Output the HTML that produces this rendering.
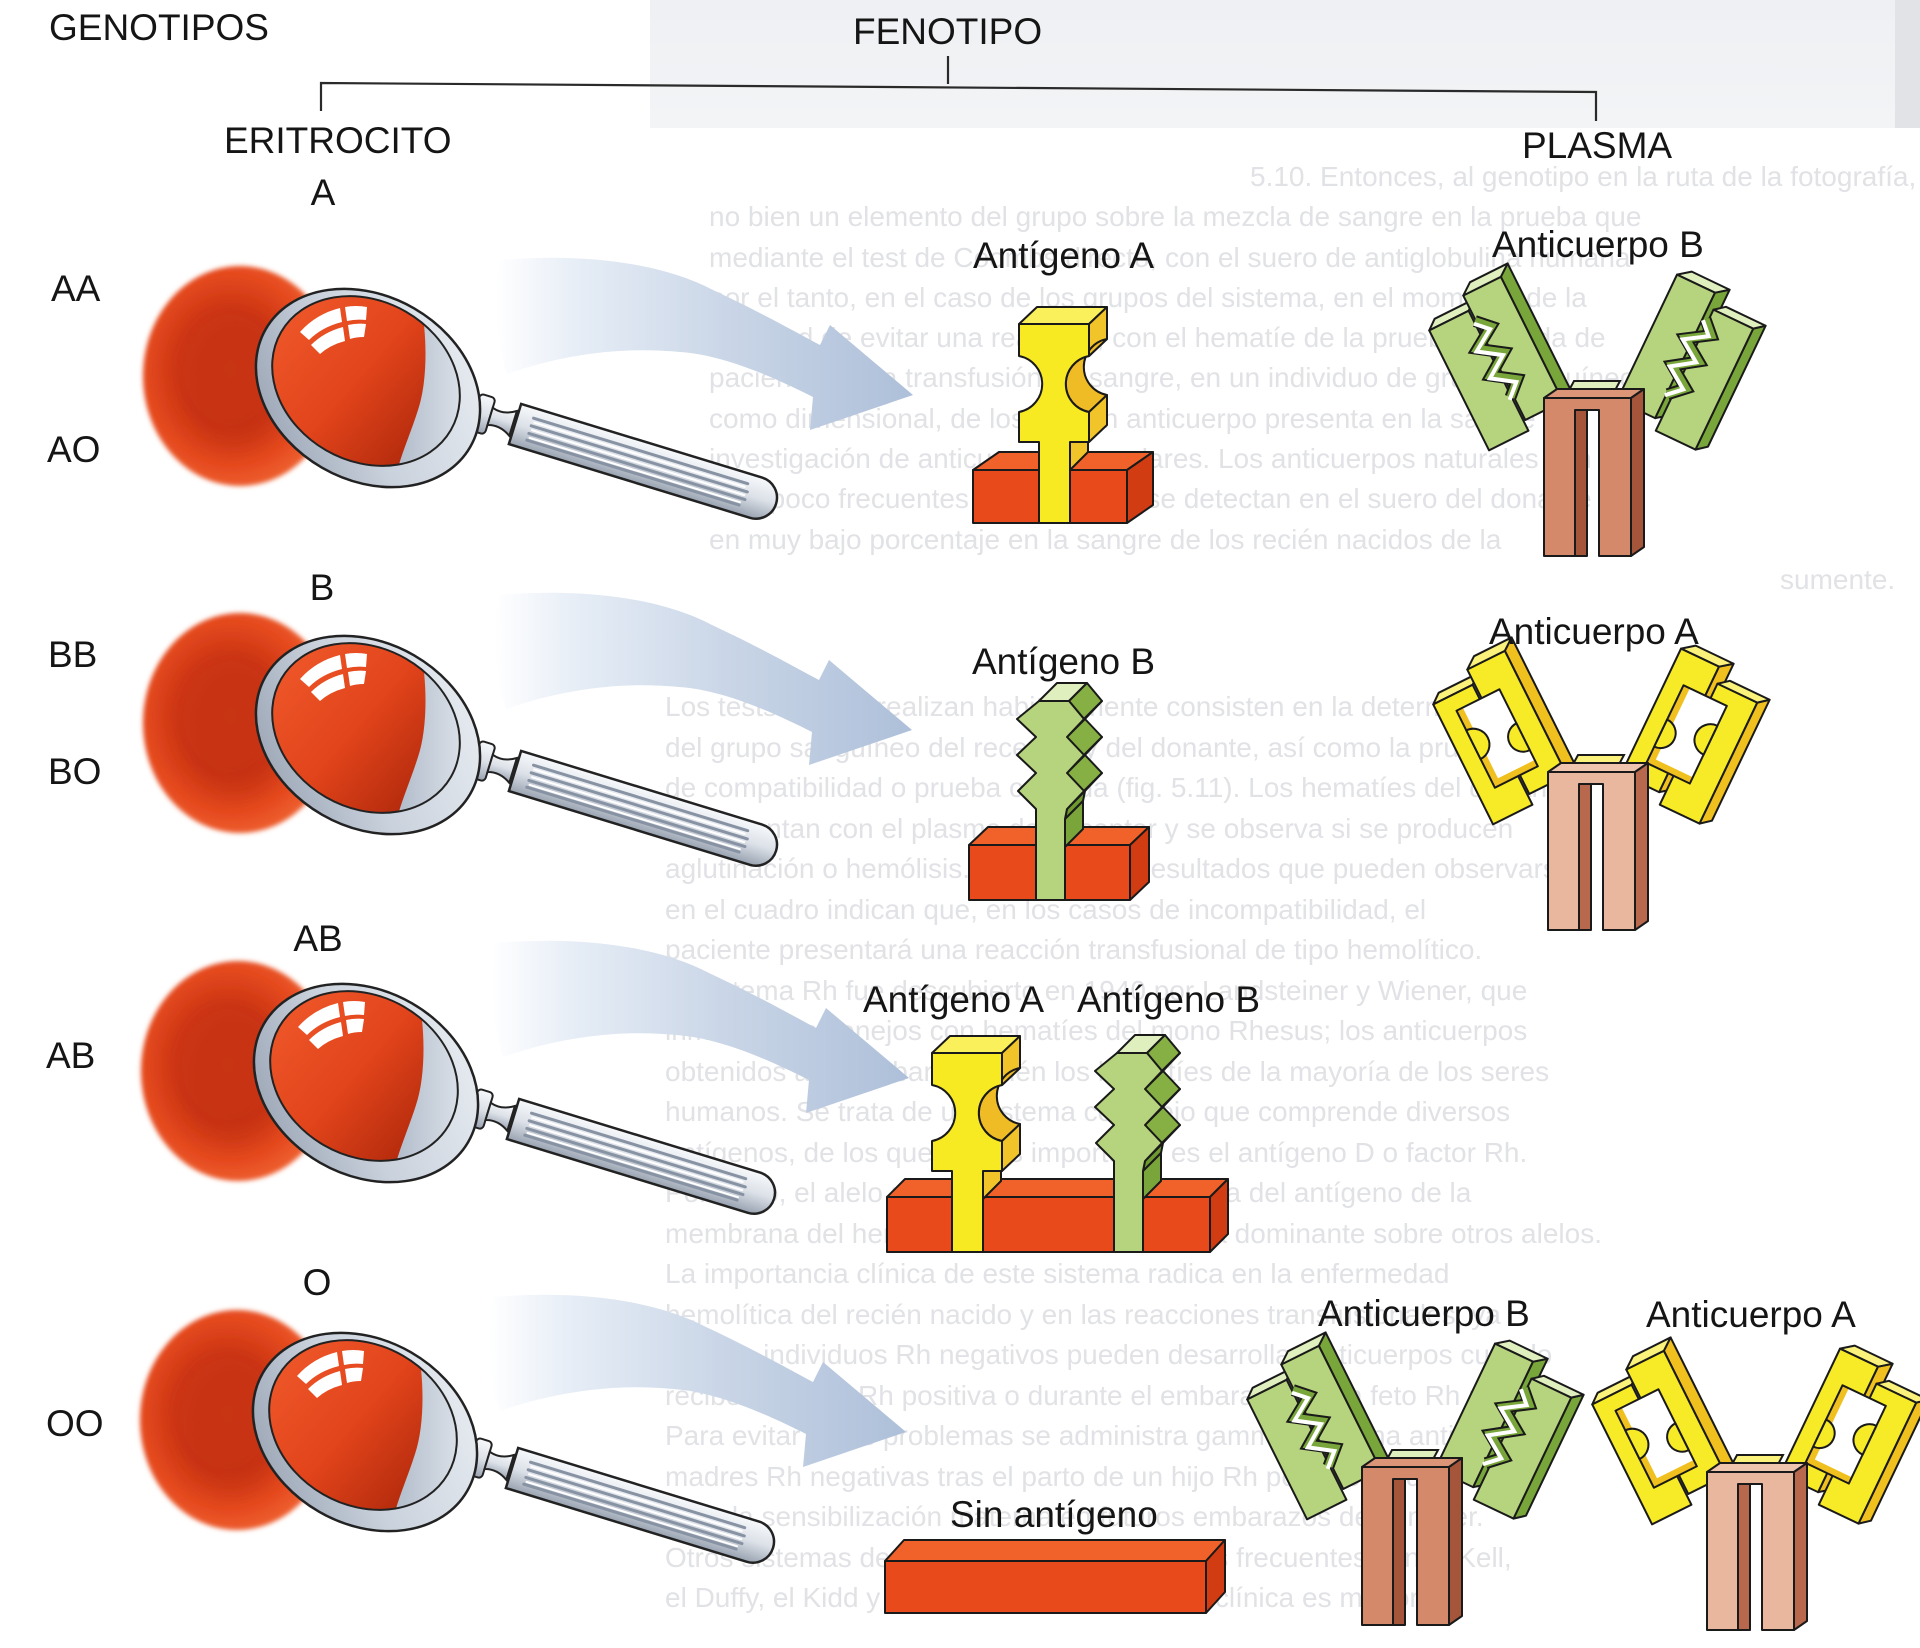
<!DOCTYPE html>
<html><head><meta charset="utf-8"><style>
html,body{margin:0;padding:0;background:#fff;}
svg{display:block;}
.lb{font-family:"Liberation Sans",Arial,sans-serif;font-size:37px;fill:#151515;}
.bg{font-family:"Liberation Sans",Arial,sans-serif;font-size:28px;fill:#e1e2e5;}
</style></head><body>
<svg width="1920" height="1648" viewBox="0 0 1920 1648" xmlns="http://www.w3.org/2000/svg">
<defs>
 <radialGradient id="cellG" cx="0.45" cy="0.47" r="0.55">
  <stop offset="0" stop-color="#cf3a17"/><stop offset="0.5" stop-color="#cd3614"/>
  <stop offset="0.8" stop-color="#e54a1f"/><stop offset="1" stop-color="#ee6030"/>
 </radialGradient>
 <filter id="soft" x="-10%" y="-10%" width="120%" height="120%"><feGaussianBlur stdDeviation="2.5"/></filter>
 <filter id="blur8" x="-30%" y="-30%" width="160%" height="160%"><feGaussianBlur stdDeviation="10"/></filter>
 <linearGradient id="rimG" x1="0" y1="1" x2="1" y2="0">
  <stop offset="0" stop-color="#8d98a9"/><stop offset="0.45" stop-color="#c9d1dc"/><stop offset="1" stop-color="#eef2f6"/>
 </linearGradient>
 <linearGradient id="silverV" x1="0" y1="0" x2="0" y2="1">
  <stop offset="0" stop-color="#f7f9fb"/><stop offset="0.5" stop-color="#dce1e8"/><stop offset="1" stop-color="#98a2b0"/>
 </linearGradient>
 <linearGradient id="lensRed" gradientUnits="userSpaceOnUse" x1="270" y1="300" x2="430" y2="440">
  <stop offset="0" stop-color="#f05a2c"/><stop offset="0.55" stop-color="#e2441b"/><stop offset="1" stop-color="#b22a0c"/>
 </linearGradient>
 <linearGradient id="glassG" gradientUnits="userSpaceOnUse" x1="400" y1="0" x2="470" y2="0">
  <stop offset="0" stop-color="#b3bdcb"/><stop offset="1" stop-color="#dfe5ec"/>
 </linearGradient>
 <linearGradient id="arrowG" gradientUnits="userSpaceOnUse" x1="495" y1="0" x2="915" y2="0">
  <stop offset="0" stop-color="#ffffff"/><stop offset="0.2" stop-color="#e6edf6"/>
  <stop offset="0.55" stop-color="#cad6e7"/><stop offset="1" stop-color="#adbfd9"/>
 </linearGradient>
 <linearGradient id="bandG" x1="0" y1="0" x2="0" y2="1">
  <stop offset="0" stop-color="#eef0f3"/><stop offset="1" stop-color="#f3f4f6"/>
 </linearGradient>
 <clipPath id="lensClip"><ellipse cx="366" cy="381" rx="98" ry="80" transform="rotate(30 366 381)"/></clipPath>

 <path id="arrow" d="M500,260 C580,253 660,262 713,290 C760,312 792,330 820,345 L830,325 L913,395 L810,430 L813,397 C775,378 725,355 680,352 C630,347 570,352 507,374 C495,340 495,290 500,260 Z" fill="url(#arrowG)"/>

 <g id="mag">
  <ellipse cx="240" cy="376" rx="97" ry="110" fill="url(#cellG)" filter="url(#soft)"/>
  <ellipse cx="236" cy="382" rx="52" ry="68" fill="#b92c10" opacity="0.3" filter="url(#blur8)"/>
  <g transform="translate(515,424) rotate(17)">
   <rect x="-42" y="-19" width="16" height="38" rx="4" fill="url(#silverV)" stroke="#222" stroke-width="2"/>
   <path d="M-26,-9 Q-14,-5 -2,-13 L-2,13 Q-14,5 -26,9 Z" fill="url(#silverV)" stroke="#222" stroke-width="2"/>
   <path d="M0,-21 H252 A21,21 0 0 1 252,21 H0 Z" fill="url(#silverV)" stroke="#222" stroke-width="2.5"/>
   <g stroke="#8792a3" stroke-width="3" stroke-linecap="round">
    <line x1="16" y1="-11" x2="240" y2="-11"/><line x1="16" y1="-3" x2="242" y2="-3"/>
    <line x1="16" y1="5" x2="242" y2="5"/><line x1="16" y1="12" x2="238" y2="12"/>
   </g>
   <g stroke="#ffffff" stroke-width="2" stroke-linecap="round">
    <line x1="18" y1="-7" x2="238" y2="-7"/><line x1="18" y1="1" x2="240" y2="1"/><line x1="18" y1="9" x2="238" y2="9"/>
   </g>
  </g>
  <ellipse cx="368" cy="388" rx="118" ry="92" transform="rotate(30 368 388)" fill="url(#rimG)" stroke="#222" stroke-width="2.5"/>
  <g clip-path="url(#lensClip)">
   <rect x="260" y="290" width="215" height="185" fill="url(#lensRed)"/>
   <path d="M418,290 C428,330 428,380 418,410 C410,435 402,452 396,475 L500,475 L500,290 Z" fill="url(#glassG)"/>
  </g>
  <ellipse cx="366" cy="381" rx="98" ry="80" transform="rotate(30 366 381)" fill="none" stroke="#222" stroke-width="2"/>
  <g fill="#ffffff">
   <path d="M300,332 Q316,314 340,308 L342,322 Q322,327 309,340 Z"/>
   <path d="M345,307 Q356,305 367,307 L366,320 Q356,319 347,321 Z"/>
   <path d="M311,345 Q324,332 343,327 L345,341 Q330,345 320,354 Z"/>
   <path d="M348,325 Q357,323 366,324 L364,337 Q356,337 350,339 Z"/>
  </g>
 </g>

 <g id="agA" stroke="#1a1a1a" stroke-width="2" stroke-linejoin="round">
  <polygon points="0,0 70,0 88,-17 18,-17" fill="#faf05c"/>
  <polygon points="70,0 88,-17 88,15 70,32" fill="#f1c42a"/>
  <path d="M70,32 A28.5,28.5 0 0 0 70,88 L88,71 A28.5,28.5 0 0 1 88,15 Z" fill="#efbc26"/>
  <polygon points="70,88 88,71 88,101 70,118" fill="#f1c42a"/>
  <polygon points="51,118 69,101 69,128 51,146" fill="#f1c42a"/>
  <path d="M0,0 H70 V32 A28.5,28.5 0 0 0 70,88 V118 H51 V199 H20 V118 H0 V88 A28.5,28.5 0 0 0 0,32 Z" fill="#f8ea22"/>
 </g>

 <g id="agB" stroke="#1a1a1a" stroke-width="2" stroke-linejoin="round">
  <polygon points="0,0 30,0 48,-18 18,-18" fill="#e0efbe"/>
  <polygon points="30,0 48,-18 63,0 45,18" fill="#86b043"/>
  <polygon points="45,18 63,0 46,18 28,36" fill="#6e9a30"/>
  <polygon points="28,36 46,18 63,36 45,54" fill="#86b043"/>
  <polygon points="45,54 63,36 46,54 28,72" fill="#6e9a30"/>
  <polygon points="28,72 46,54 63,72 45,90" fill="#86b043"/>
  <polygon points="45,90 63,72 46,90 28,108" fill="#6e9a30"/>
  <polygon points="28,108 46,90 44,100 26,118" fill="#6e9a30"/>
  <polygon points="26,118 44,100 44,128 26,146" fill="#7aa53a"/>
  <path d="M0,0 H30 L45,18 L28,36 L45,54 L28,72 L45,90 L28,108 L26,118 V199 H-3 V108 L-21,90 L-3,72 L-22,54 L-3,36 L-22,18 Z" fill="#b6d47e"/>
 </g>

 <g id="stemB" stroke="#1a1a1a" stroke-width="2" stroke-linejoin="round">
  <polygon points="0,0 87,0 100,-9 13,-9" fill="#dc9677"/>
  <polygon points="87,0 100,-9 100,149 87,158" fill="#a4553a"/>
  <rect x="31" y="12" width="12" height="146" fill="#a4553a"/>
  <path d="M0,0 H87 V158 H55 V12 H31 V158 H0 Z" fill="#d4896a"/>
 </g>
 <g id="stemA" stroke="#1a1a1a" stroke-width="2" stroke-linejoin="round">
  <polygon points="0,0 87,0 100,-9 13,-9" fill="#efc5ad"/>
  <polygon points="87,0 100,-9 100,149 87,158" fill="#b7684d"/>
  <rect x="31" y="12" width="12" height="146" fill="#b7684d"/>
  <path d="M0,0 H87 V158 H55 V12 H31 V158 H0 Z" fill="#e8b79d"/>
 </g>

 <g id="armGL" stroke="#1a1a1a" stroke-width="2" stroke-linejoin="round">
  <polygon points="-52,-126 -8,-126 2,-134 -42,-134" fill="#e0efbe"/>
  <rect x="-52" y="-126" width="44" height="134" fill="#b6d47e"/>
  <polygon points="36,-142 48,-151 48,-12 36,-3" fill="#79a63a"/>
  <polygon points="-6,-142 36,-142 48,-151 6,-151" fill="#e0efbe"/>
  <rect x="-6" y="-142" width="42" height="139" fill="#b6d47e"/>
  <path d="M-7,-114 L5,-102 L-17,-88 L5,-73 L-17,-58 L5,-43 L-9,-30" fill="none" stroke="#1a1a1a" stroke-width="12" stroke-linejoin="miter"/>
  <path d="M-7,-114 L5,-102 L-17,-88 L5,-73 L-17,-58 L5,-43 L-9,-30" fill="none" stroke="#79a63a" stroke-width="8" stroke-linejoin="miter"/>
  <path d="M-7,-114 L5,-102 L-17,-88 L5,-73 L-17,-58 L5,-43 L-9,-30" transform="translate(-2,2)" fill="none" stroke="#ffffff" stroke-width="4" stroke-linejoin="miter"/>
 </g>
 <g id="armGR" stroke="#1a1a1a" stroke-width="2" stroke-linejoin="round">
  <polygon points="2,-142 14,-151 14,-12 2,-3" fill="#79a63a"/>
  <polygon points="-40,-142 2,-142 14,-151 -28,-151" fill="#e0efbe"/>
  <rect x="-40" y="-142" width="42" height="139" fill="#b6d47e"/>
  <polygon points="52,-126 62,-134 62,0 52,8" fill="#79a63a"/>
  <polygon points="8,-126 52,-126 62,-134 18,-134" fill="#e0efbe"/>
  <rect x="8" y="-126" width="44" height="134" fill="#b6d47e"/>
  <path d="M5,-114 L17,-102 L-5,-88 L17,-73 L-5,-58 L17,-43 L3,-30" fill="none" stroke="#1a1a1a" stroke-width="12" stroke-linejoin="miter"/>
  <path d="M5,-114 L17,-102 L-5,-88 L17,-73 L-5,-58 L17,-43 L3,-30" fill="none" stroke="#79a63a" stroke-width="8" stroke-linejoin="miter"/>
  <path d="M5,-114 L17,-102 L-5,-88 L17,-73 L-5,-58 L17,-43 L3,-30" transform="translate(-2,2)" fill="none" stroke="#ffffff" stroke-width="4" stroke-linejoin="miter"/>
 </g>

 <g id="armYL" stroke="#1a1a1a" stroke-width="2" stroke-linejoin="round">
  <polygon points="-52,-126 -8,-126 2,-134 -42,-134" fill="#faf27a"/>
  <rect x="-52" y="-126" width="44" height="134" fill="#f7ea26"/>
  <polygon points="36,-142 48,-151 48,-12 36,-3" fill="#efc01e"/>
  <polygon points="-6,-142 36,-142 48,-151 6,-151" fill="#faf27a"/>
  <rect x="-6" y="-142" width="42" height="139" fill="#f7ea26"/>
  <rect x="-34" y="-110" width="48" height="86" fill="#ffffff" stroke="none"/>
  <rect x="-34" y="-110" width="7" height="86" fill="#efc01e" stroke="none"/>
  <rect x="-34" y="-31" width="48" height="7" fill="#efc01e" stroke="none"/>
  <rect x="-34" y="-110" width="48" height="86" fill="none"/>
  <path d="M-34,-88 A16,16 0 0 1 -34,-56 Z" fill="#f7ea26"/>
  <path d="M14,-72 A15,15 0 0 0 14,-42 Z" fill="#f7ea26"/>
 </g>
 <g id="armYR" stroke="#1a1a1a" stroke-width="2" stroke-linejoin="round">
  <polygon points="2,-142 14,-151 14,-12 2,-3" fill="#efc01e"/>
  <polygon points="-40,-142 2,-142 14,-151 -28,-151" fill="#faf27a"/>
  <rect x="-40" y="-142" width="42" height="139" fill="#f7ea26"/>
  <polygon points="52,-126 62,-134 62,0 52,8" fill="#efc01e"/>
  <polygon points="8,-126 52,-126 62,-134 18,-134" fill="#faf27a"/>
  <rect x="8" y="-126" width="44" height="134" fill="#f7ea26"/>
  <rect x="-22" y="-110" width="48" height="86" fill="#ffffff" stroke="none"/>
  <rect x="-22" y="-110" width="7" height="86" fill="#efc01e" stroke="none"/>
  <rect x="-22" y="-31" width="48" height="7" fill="#efc01e" stroke="none"/>
  <rect x="-22" y="-110" width="48" height="86" fill="none"/>
  <path d="M-22,-72 A15,15 0 0 1 -22,-42 Z" fill="#f7ea26"/>
  <path d="M26,-88 A16,16 0 0 0 26,-56 Z" fill="#f7ea26"/>
 </g>
</defs>

<rect x="650" y="0" width="1270" height="128" fill="url(#bandG)"/>
<rect x="1895" y="0" width="25" height="128" fill="#e1e3e7"/>

<g class="bg">
 <text x="1250" y="186">5.10. Entonces, al genotipo en la ruta de la fotografía, el</text>
 <text x="709" y="226">no bien un elemento del grupo sobre la mezcla de sangre en la prueba que</text>
 <text x="709" y="267">mediante el test de Coombs directo, con el suero de antiglobulina humana</text>
 <text x="709" y="307">por el tanto, en el caso de los grupos del sistema, en el momento de la</text>
 <text x="709" y="347">finalidad de evitar una reacción, con el hematíe de la prueba cruzada de</text>
 <text x="709" y="387">paciente con la transfusión de sangre, en un individuo de grupo sanguíneo</text>
 <text x="709" y="428">como dimensional, de los que un anticuerpo presenta en la sangre del</text>
 <text x="709" y="468">investigación de anticuerpos irregulares. Los anticuerpos naturales son</text>
 <text x="709" y="508">muy poco frecuentes en general, y se detectan en el suero del donante</text>
 <text x="709" y="549">en muy bajo porcentaje en la sangre de los recién nacidos de la</text>
 <text x="1780" y="589">sumente.</text>
 <text x="665" y="716">Los tests que se realizan habitualmente consisten en la determinación</text>
 <text x="665" y="757">del grupo sanguíneo del receptor y del donante, así como la prueba</text>
 <text x="665" y="797">de compatibilidad o prueba cruzada (fig. 5.11). Los hematíes del donante</text>
 <text x="665" y="838">se enfrentan con el plasma del receptor y se observa si se producen</text>
 <text x="665" y="878">aglutinación o hemólisis. Los posibles resultados que pueden observarse</text>
 <text x="665" y="919">en el cuadro indican que, en los casos de incompatibilidad, el</text>
 <text x="665" y="959">paciente presentará una reacción transfusional de tipo hemolítico.</text>
 <text x="665" y="1000">El sistema Rh fue descubierto en 1940 por Landsteiner y Wiener, que</text>
 <text x="665" y="1040">inmunizaron conejos con hematíes del mono Rhesus; los anticuerpos</text>
 <text x="665" y="1081">obtenidos aglutinaban también los hematíes de la mayoría de los seres</text>
 <text x="665" y="1121">humanos. Se trata de un sistema complejo que comprende diversos</text>
 <text x="665" y="1162">antígenos, de los que el más importante es el antígeno D o factor Rh.</text>
 <text x="665" y="1202">Por tanto, el alelo responsable de la presencia del antígeno de la</text>
 <text x="665" y="1243">membrana del hematíe se hereda de manera dominante sobre otros alelos.</text>
 <text x="665" y="1283">La importancia clínica de este sistema radica en la enfermedad</text>
 <text x="665" y="1324">hemolítica del recién nacido y en las reacciones transfusionales, ya</text>
 <text x="665" y="1364">que los individuos Rh negativos pueden desarrollar anticuerpos cuando</text>
 <text x="665" y="1405">reciben sangre Rh positiva o durante el embarazo de un feto Rh positivo.</text>
 <text x="665" y="1445">Para evitar estos problemas se administra gammaglobulina anti-D a las</text>
 <text x="665" y="1486">madres Rh negativas tras el parto de un hijo Rh positivo, lo que</text>
 <text x="665" y="1526">evita la sensibilización materna en futuros embarazos de la mujer.</text>
 <text x="665" y="1567">Otros sistemas de grupos sanguíneos menos frecuentes son el Kell,</text>
 <text x="665" y="1607">el Duffy, el Kidd y el MNS, cuya importancia clínica es menor.</text>
</g>

<g stroke="#2a2a2a" stroke-width="2.2" fill="none">
 <polyline points="321,111 321,83 1596,92 1596,121"/>
 <line x1="948" y1="56" x2="948" y2="84"/>
</g>

<use href="#arrow"/>
<use href="#arrow" transform="translate(-1,335)"/>
<use href="#arrow" transform="translate(-4,683)"/>
<use href="#arrow" transform="translate(-7,1037)"/>

<use href="#mag"/>
<use href="#mag" transform="translate(0,347)"/>
<use href="#mag" transform="translate(-2,695)"/>
<use href="#mag" transform="translate(-3,1044)"/>

<g stroke="#1a1a1a" stroke-width="2" stroke-linejoin="round">
 <polygon points="973,470 1127,470 1153,452 999,452" fill="#f0622a"/>
 <polygon points="1127,470 1153,452 1153,505 1127,523" fill="#d23c12"/>
 <rect x="973" y="470" width="154" height="53" fill="#e84a1c"/>

 <polygon points="969,845 1130,845 1149,827 988,827" fill="#f0622a"/>
 <polygon points="1130,845 1149,827 1149,882 1130,900" fill="#d23c12"/>
 <rect x="969" y="845" width="161" height="55" fill="#e84a1c"/>

 <polygon points="887,1197 1210,1197 1228,1179 905,1179" fill="#f0622a"/>
 <polygon points="1210,1197 1228,1179 1228,1234 1210,1252" fill="#d23c12"/>
 <rect x="887" y="1197" width="323" height="55" fill="#e84a1c"/>

 <polygon points="885,1561 1206,1561 1225,1540 904,1540" fill="#f0622a"/>
 <polygon points="1206,1561 1225,1540 1225,1592 1206,1613" fill="#d23c12"/>
 <rect x="885" y="1561" width="321" height="52" fill="#e84a1c"/>
</g>

<use href="#agA" transform="translate(1019,324)"/>
<use href="#agB" transform="translate(1039,701)"/>
<use href="#agA" transform="translate(932,1053)"/>
<use href="#agB" transform="translate(1117,1053)"/>

<g transform="translate(1544,398)">
 <use href="#armGL" transform="translate(-12,22) rotate(-26.5)"/>
 <use href="#armGR" transform="translate(108,22) rotate(25.5)"/>
 <polygon points="22,-2 68,-2 76,-17 30,-17" fill="#e0efbe" stroke="#1a1a1a" stroke-width="2"/>
 <use href="#stemB"/>
</g>
<g transform="translate(1548,772)">
 <use href="#armYL" transform="translate(-12,22) rotate(-26.5)"/>
 <use href="#armYR" transform="translate(108,22) rotate(25.5)"/>
 <polygon points="22,-2 68,-2 76,-17 30,-17" fill="#faf27a" stroke="#1a1a1a" stroke-width="2"/>
 <use href="#stemA"/>
</g>
<g transform="translate(1362,1467)">
 <use href="#armGL" transform="translate(-12,22) rotate(-26.5)"/>
 <use href="#armGR" transform="translate(108,22) rotate(25.5)"/>
 <polygon points="22,-2 68,-2 76,-17 30,-17" fill="#e0efbe" stroke="#1a1a1a" stroke-width="2"/>
 <use href="#stemB"/>
</g>
<g transform="translate(1707,1472)">
 <use href="#armYL" transform="translate(-12,22) rotate(-26.5)"/>
 <use href="#armYR" transform="translate(108,22) rotate(25.5)"/>
 <polygon points="22,-2 68,-2 76,-17 30,-17" fill="#faf27a" stroke="#1a1a1a" stroke-width="2"/>
 <use href="#stemA"/>
</g>

<g class="lb">
 <text x="49" y="40">GENOTIPOS</text>
 <text x="853" y="44">FENOTIPO</text>
 <text x="224" y="153">ERITROCITO</text>
 <text x="1522" y="158">PLASMA</text>
 <text x="323" y="205" text-anchor="middle">A</text>
 <text x="51" y="301">AA</text>
 <text x="47" y="462">AO</text>
 <text x="322" y="600" text-anchor="middle">B</text>
 <text x="48" y="667">BB</text>
 <text x="48" y="784">BO</text>
 <text x="318" y="951" text-anchor="middle">AB</text>
 <text x="46" y="1068">AB</text>
 <text x="317" y="1295" text-anchor="middle">O</text>
 <text x="46" y="1436">OO</text>
 <text x="973" y="268">Antígeno A</text>
 <text x="1492" y="257">Anticuerpo B</text>
 <text x="972" y="674">Antígeno B</text>
 <text x="1489" y="644">Anticuerpo A</text>
 <text x="863" y="1012">Antígeno A</text>
 <text x="1077" y="1012">Antígeno B</text>
 <text x="1318" y="1326">Anticuerpo B</text>
 <text x="1646" y="1327">Anticuerpo A</text>
 <text x="950" y="1527">Sin antígeno</text>
</g>
</svg>
</body></html>
